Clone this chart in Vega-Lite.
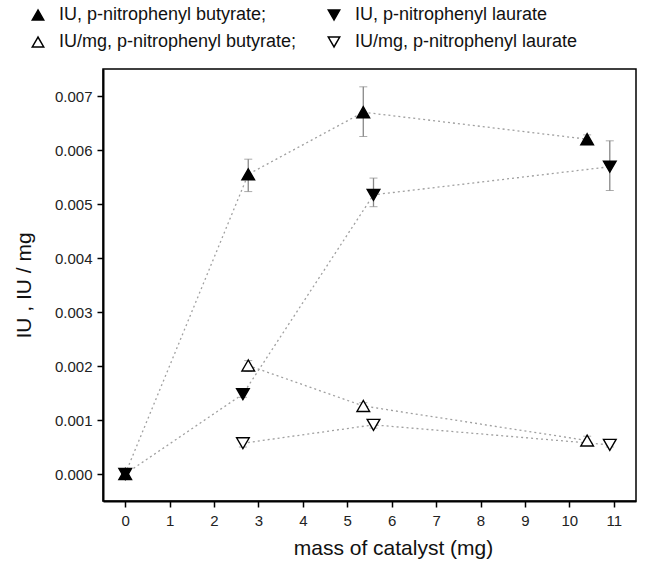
{
  "$schema": "https://vega.github.io/schema/vega-lite/v6.json",
  "width": 533,
  "height": 432,
  "autosize": {"type": "none"},
  "padding": {"left": 103, "top": 69, "right": 9, "bottom": 64},
  "config": {
    "font": "Liberation Sans",
    "view": {"stroke": "black", "strokeWidth": 1.5},
    "axis": {
      "domainColor": "black", "domainWidth": 2, "tickColor": "black", "tickWidth": 1.5,
      "tickSize": 6, "labelColor": "#222", "labelFontSize": 15, "titleFontSize": 21,
      "titleFontWeight": "normal", "titleColor": "#111", "grid": false, "labelPadding": 5
    }
  },
  "data": {
    "values": [
      {"series": "IU, p-nitrophenyl butyrate;", "x": 0, "y": 0},
      {"series": "IU, p-nitrophenyl butyrate;", "x": 2.77, "y": 0.00555, "lo": 0.00523, "hi": 0.00583},
      {"series": "IU, p-nitrophenyl butyrate;", "x": 5.36, "y": 0.0067, "lo": 0.00625, "hi": 0.00717},
      {"series": "IU, p-nitrophenyl butyrate;", "x": 10.4, "y": 0.0062, "lo": 0.0061, "hi": 0.00628},
      {"series": "IU, p-nitrophenyl laurate", "x": 0, "y": 0},
      {"series": "IU, p-nitrophenyl laurate", "x": 2.65, "y": 0.00148, "lo": 0.00142, "hi": 0.00156},
      {"series": "IU, p-nitrophenyl laurate", "x": 5.59, "y": 0.00517, "lo": 0.00495, "hi": 0.00548},
      {"series": "IU, p-nitrophenyl laurate", "x": 10.91, "y": 0.00569, "lo": 0.00525, "hi": 0.00617},
      {"series": "IU/mg, p-nitrophenyl butyrate;", "x": 2.77, "y": 0.00201, "lo": 0.0019, "hi": 0.0021},
      {"series": "IU/mg, p-nitrophenyl butyrate;", "x": 5.36, "y": 0.00126, "lo": 0.0012, "hi": 0.00132},
      {"series": "IU/mg, p-nitrophenyl butyrate;", "x": 10.4, "y": 0.00062, "lo": 0.00055, "hi": 0.0007},
      {"series": "IU/mg, p-nitrophenyl laurate", "x": 2.65, "y": 0.00057, "lo": 0.0005, "hi": 0.0006},
      {"series": "IU/mg, p-nitrophenyl laurate", "x": 5.59, "y": 0.00091, "lo": 0.00085, "hi": 0.00097},
      {"series": "IU/mg, p-nitrophenyl laurate", "x": 10.91, "y": 0.00054, "lo": 0.0005, "hi": 0.00058}
    ]
  },
  "encoding": {
    "x": {
      "field": "x", "type": "quantitative",
      "scale": {"domain": [-0.5, 11.5], "nice": false},
      "axis": {"values": [0,1,2,3,4,5,6,7,8,9,10,11], "title": "mass of catalyst (mg)", "titlePadding": 9, "labelPadding": 6, "titleX": 290, "titleAlign": "center", "titleAnchor": null}
    }
  },
  "layer": [
    {
      "mark": {"type": "line", "color": "#a0a0a0", "strokeDash": [2, 3], "strokeWidth": 1.3},
      "encoding": {
        "y": {
          "field": "y", "type": "quantitative",
          "scale": {"domain": [-0.0005, 0.0075], "nice": false},
          "axis": {"values": [0,0.001,0.002,0.003,0.004,0.005,0.006,0.007], "format": ".3f", "title": "IU , IU / mg", "titlePadding": 20}
        },
        "detail": {"field": "series"}
      }
    },
    {
      "transform": [{"filter": "datum.lo != null"}],
      "mark": {"type": "errorbar", "ticks": {"color": "#888", "size": 8}, "rule": {"color": "#888", "strokeWidth": 1.3}},
      "encoding": {
        "y": {"field": "lo", "type": "quantitative", "title": "IU , IU / mg"},
        "y2": {"field": "hi"}
      }
    },
    {
      "mark": {"type": "point", "filled": true, "size": 160, "stroke": "black", "strokeWidth": 1.4, "opacity": 1},
      "encoding": {
        "y": {"field": "y", "type": "quantitative", "title": "IU , IU / mg"},
        "shape": {
          "field": "series", "type": "nominal",
          "scale": {
            "domain": ["IU, p-nitrophenyl butyrate;", "IU, p-nitrophenyl laurate", "IU/mg, p-nitrophenyl butyrate;", "IU/mg, p-nitrophenyl laurate"],
            "range": ["triangle-up", "triangle-down", "triangle-up", "triangle-down"]
          },
          "legend": {
            "title": null, "orient": "none", "legendX": -74, "legendY": -63, "columns": 2, "direction": "horizontal",
            "labelFontSize": 18, "labelColor": "#111", "symbolSize": 130, "labelOffset": 12,
            "rowPadding": 9, "columnPadding": 28, "labelLimit": 320, "symbolOffset": 0,
            "encode": {"symbols": {"update": {"stroke": {"value": "black"}, "strokeWidth": {"value": 1.2}}}}
          }
        },
        "fill": {
          "field": "series", "type": "nominal",
          "scale": {
            "domain": ["IU, p-nitrophenyl butyrate;", "IU, p-nitrophenyl laurate", "IU/mg, p-nitrophenyl butyrate;", "IU/mg, p-nitrophenyl laurate"],
            "range": ["black", "black", "white", "white"]
          },
          "legend": {
            "title": null, "orient": "none", "legendX": -74, "legendY": -63, "columns": 2, "direction": "horizontal",
            "labelFontSize": 18, "labelColor": "#111", "symbolSize": 130, "labelOffset": 12,
            "rowPadding": 9, "columnPadding": 28, "labelLimit": 320, "symbolOffset": 0,
            "encode": {"symbols": {"update": {"stroke": {"value": "black"}, "strokeWidth": {"value": 1.2}}}}
          }
        }
      }
    }
  ]
}
